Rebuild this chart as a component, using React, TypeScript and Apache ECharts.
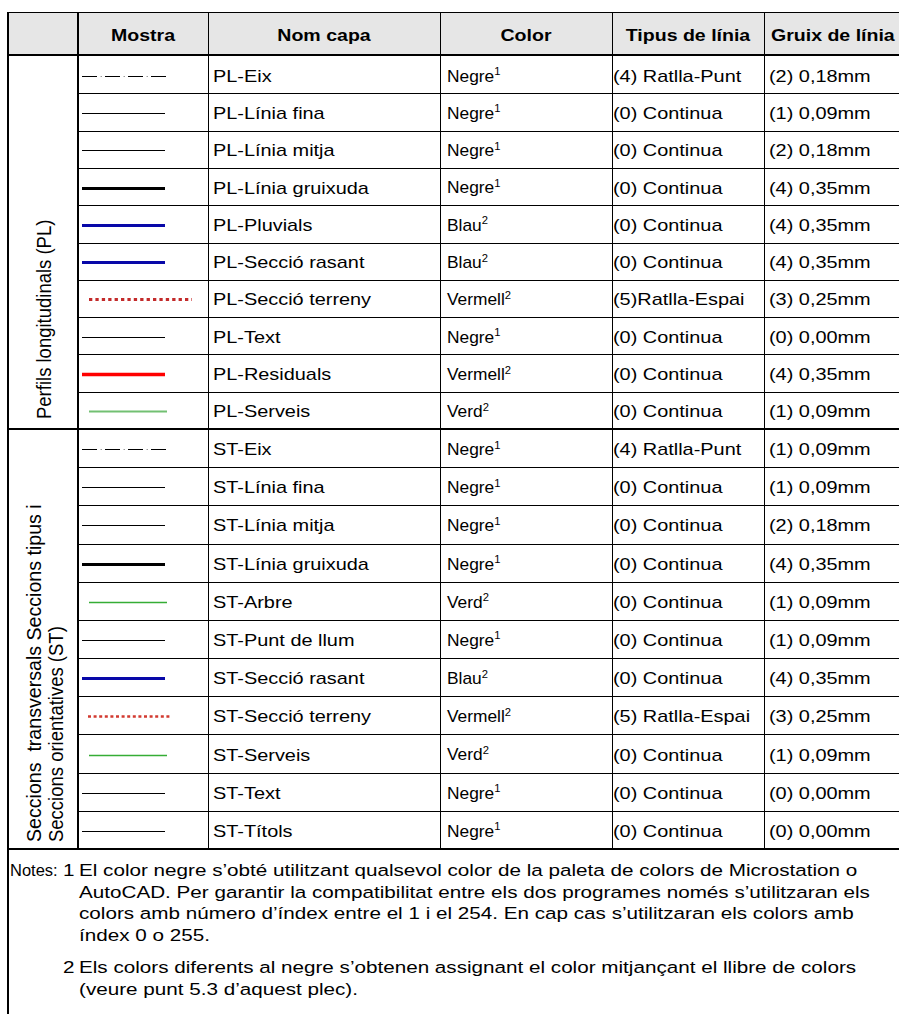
import React, { useEffect, useRef } from "react";
import * as echarts from "echarts";

const headers = ["Mostra", "Nom capa", "Color", "Tipus de línia", "Gruix de línia"];
const plLabel = ["Perfils longitudinals (PL)"];
const stLabel = ["Seccions  transversals Seccions tipus i", "Seccions orientatives (ST)"];

const plLayers = ["PL-Eix", "PL-Línia fina", "PL-Línia mitja", "PL-Línia gruixuda", "PL-Pluvials", "PL-Secció rasant", "PL-Secció terreny", "PL-Text", "PL-Residuals", "PL-Serveis"];
const plColors = ["Negre", "Negre", "Negre", "Negre", "Blau", "Blau", "Vermell", "Negre", "Vermell", "Verd"];
const plNotes = ["1", "1", "1", "1", "2", "2", "2", "1", "2", "2"];
const plTypes = ["(4) Ratlla-Punt", "(0) Continua", "(0) Continua", "(0) Continua", "(0) Continua", "(0) Continua", "(5)Ratlla-Espai", "(0) Continua", "(0) Continua", "(0) Continua"];
const plWidths = ["(2) 0,18mm", "(1) 0,09mm", "(2) 0,18mm", "(4) 0,35mm", "(4) 0,35mm", "(4) 0,35mm", "(3) 0,25mm", "(0) 0,00mm", "(4) 0,35mm", "(1) 0,09mm"];
const plSamples = ["dashdot", "thin", "thin", "thick", "blue", "blue", "reddotPL", "thin", "red", "paleGreen"];

const stLayers = ["ST-Eix", "ST-Línia fina", "ST-Línia mitja", "ST-Línia gruixuda", "ST-Arbre", "ST-Punt de llum", "ST-Secció rasant", "ST-Secció terreny", "ST-Serveis", "ST-Text", "ST-Títols"];
const stColors = ["Negre", "Negre", "Negre", "Negre", "Verd", "Negre", "Blau", "Vermell", "Verd", "Negre", "Negre"];
const stNotes = ["1", "1", "1", "1", "2", "1", "2", "2", "2", "1", "1"];
const stTypes = ["(4) Ratlla-Punt", "(0) Continua", "(0) Continua", "(0) Continua", "(0) Continua", "(0) Continua", "(0) Continua", "(5) Ratlla-Espai", "(0) Continua", "(0) Continua", "(0) Continua"];
const stWidths = ["(1) 0,09mm", "(1) 0,09mm", "(2) 0,18mm", "(4) 0,35mm", "(1) 0,09mm", "(1) 0,09mm", "(4) 0,35mm", "(3) 0,25mm", "(1) 0,09mm", "(0) 0,00mm", "(0) 0,00mm"];
const stSamples = ["dashdot", "thin", "thin", "thick", "green", "thin", "blue", "reddotST", "green", "thin", "thin"];

const notesPrefix = "Notes:";
const noteNumbers = ["1", "2"];
const note1Lines = [
  "El color negre s’obté utilitzant qualsevol color de la paleta de colors de Microstation o",
  "AutoCAD. Per garantir la compatibilitat entre els dos programes només s’utilitzaran els",
  "colors amb número d’índex entre el 1 i el 254. En cap cas s’utilitzaran els colors amb",
  "índex 0 o 255.",
];
const note2Lines = [
  "Els colors diferents al negre s’obtenen assignant el color mitjançant el llibre de colors",
  "(veure punt 5.3 d’aquest plec).",
];

const FONT = "'Liberation Sans', Arial, Helvetica, sans-serif";

export default function App() {
  const ref = useRef<HTMLDivElement>(null);
  useEffect(() => {
    if (!ref.current) return;
    const chart = echarts.init(ref.current, null, { renderer: "svg" });
    const canvas = document.createElement("canvas");
    const ctx = canvas.getContext("2d") as CanvasRenderingContext2D;
    const measure = (t: string, size: number) => {
      ctx.font = `${size}px ${FONT}`;
      return ctx.measureText(t).width;
    };

    const W = 899;
    const L = 8;
    const top = 12;
    const headBottom = 55;
    const secY = 429;
    const bottom = 849;
    const cols = [8, 78, 208, 440, 612, 764, 960];
    const BODY = 17;
    const SX = 1.17;
    const SX_COLOR = 1.02;
    const els: any[] = [];

    const line = (x1: number, y1: number, x2: number, y2: number, w: number, stroke = "#000", extra: any = {}) =>
      els.push({ type: "line", shape: { x1, y1, x2, y2 }, style: { stroke, lineWidth: w, ...extra }, z: 10 });
    const txt = (t: string, x: number, y: number, o: any = {}) =>
      els.push({
        type: "text",
        x,
        y,
        scaleX: o.scaleX ?? SX,
        style: { text: t, fontFamily: FONT, fontSize: o.size ?? BODY, fontWeight: o.weight ?? "normal", fill: "#000", align: o.align ?? "left", verticalAlign: "middle" },
        z: 5,
      });

    els.push({ type: "rect", shape: { x: L, y: top, width: W - L, height: headBottom - top }, style: { fill: "#e6e6e6" }, z: 1 });

    headers.forEach((h, i) => {
      const c0 = cols[i + 1];
      const c1 = cols[i + 2];
      const isLast = i === headers.length - 1;
      txt(h, isLast ? c0 + 7 : (c0 + c1) / 2, (top + headBottom) / 2 + 1, { weight: "bold", align: isLast ? "left" : "center", scaleX: 1.15 });
    });

    const sample = (kind: string, y: number) => {
      const yy = Math.round(y) + 0.5;
      switch (kind) {
        case "dashdot":
          line(82, yy, 166, yy, 1, "#000", { lineDash: [15, 8] });
          line(100.5, yy, 166, yy, 1, "#9a9a9a", { lineDash: [1.5, 21.5] });
          break;
        case "thin":
          line(82, yy, 165, yy, 1, "#000");
          break;
        case "thick":
          line(82, yy, 165, yy, 3, "#000");
          break;
        case "blue":
          line(82, yy, 165, yy, 3, "#0808a8");
          break;
        case "red":
          line(82, yy, 165, yy, 3.5, "#ff0000");
          break;
        case "reddotPL":
          line(89, yy, 192, yy, 3, "#c32a2a", { lineDash: [3.3, 3.1] });
          break;
        case "reddotST":
          line(88, yy, 172, yy, 2.5, "#d23a30", { lineDash: [3, 2.6] });
          break;
        case "paleGreen":
          line(89, yy, 167, yy, 2, "#72c072");
          break;
        case "green":
          line(89, yy, 167, yy, 1.5, "#35ad35");
          break;
      }
    };

    const rows = (layers: string[], colors: string[], notes: string[], types: string[], widths: string[], samples: string[], y0: number, y1: number) => {
      const h = (y1 - y0) / layers.length;
      layers.forEach((name, i) => {
        const cy = y0 + h * (i + 0.5);
        if (i > 0) line(cols[1], Math.round(y0 + h * i) + 0.5, W, Math.round(y0 + h * i) + 0.5, 1);
        sample(samples[i], cy + 1);
        const ty = cy + 1;
        txt(name, cols[2] + 5, ty);
        els.push({
          type: "text",
          x: cols[3] + 7,
          y: ty,
          scaleX: SX_COLOR,
          style: {
            text: `{a|${colors[i]}}{s|${notes[i]}}`,
            align: "left",
            verticalAlign: "middle",
            rich: {
              a: { fontFamily: FONT, fontSize: BODY, fill: "#000", lineHeight: 20, verticalAlign: "middle" },
              s: { fontFamily: FONT, fontSize: 11, fill: "#000", lineHeight: 20, verticalAlign: "top" },
            },
          },
          z: 5,
        });
        txt(types[i], cols[4] + 1, ty);
        txt(widths[i], cols[5] + 5, ty);
      });
    };

    rows(plLayers, plColors, plNotes, plTypes, plWidths, plSamples, headBottom + 1, secY);
    rows(stLayers, stColors, stNotes, stTypes, stWidths, stSamples, secY, bottom);

    // rotated group labels (read bottom to top, aligned at the cell bottom)
    const VSIZE = 18.5;
    els.push({
      type: "text",
      x: 44,
      y: secY - 10,
      rotation: Math.PI / 2,
      scaleY: 1.1,
      style: { text: plLabel[0], fontFamily: FONT, fontSize: VSIZE, fill: "#000", align: "left", verticalAlign: "middle" },
      z: 5,
    });
    stLabel.forEach((t, i) => {
      els.push({
        type: "text",
        x: 34 + i * 22,
        y: bottom - 7,
        rotation: Math.PI / 2,
        scaleX: i === 0 ? 1.06 : 1,
        scaleY: 1.1,
        style: { text: t, fontFamily: FONT, fontSize: VSIZE, fill: "#000", align: "left", verticalAlign: "middle" },
        z: 5,
      });
    });

    // borders
    line(L, top + 0.5, W, top + 0.5, 1);
    line(L, top, L, 1014, 2);
    line(L, headBottom, W, headBottom, 2);
    line(cols[1], top, cols[1], bottom, 2);
    [cols[2], cols[3], cols[4], cols[5]].forEach((x) => line(x + 0.5, top, x + 0.5, bottom, 1));
    line(L, secY, W, secY, 2);
    line(L, bottom, W, bottom, 2);

    // notes
    const NSIZE = 17;
    const left = 79;
    const right = 858;
    const nsx = (right - left) / measure(note1Lines[0], NSIZE);
    const noteText = (t: string, x: number, y: number, sx = nsx) =>
      els.push({ type: "text", x, y, scaleX: sx, style: { text: t, fontFamily: FONT, fontSize: NSIZE, fill: "#000", align: "left", verticalAlign: "middle" }, z: 5 });
    noteText(notesPrefix, 10, 870, 0.97);
    noteText(noteNumbers[0], 63, 870);
    note1Lines.forEach((t, i) => noteText(t, left, 870 + i * 21.7));
    noteText(noteNumbers[1], 63, 967);
    note2Lines.forEach((t, i) => noteText(t, left, 967 + i * 21.7));

    chart.setOption({ animation: false, backgroundColor: "#ffffff", graphic: { elements: els } });
    return () => chart.dispose();
  }, []);
  return <div ref={ref} style={{ position: "fixed", left: 0, top: 0, width: 899, height: 1014 }} />;
}
